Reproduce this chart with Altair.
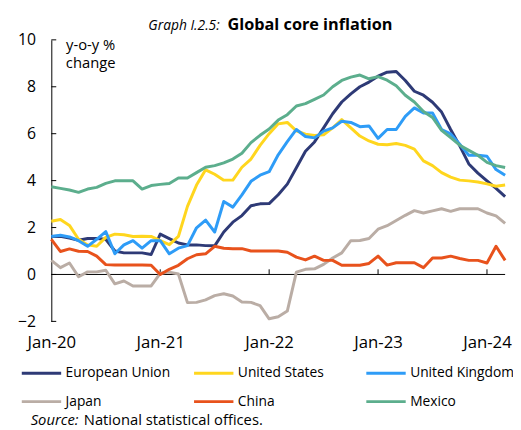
import altair as alt
import pandas as pd

series_names = ["European Union", "United States", "United Kingdom", "Japan", "China", "Mexico"]
series_colors = ["#2E3A76", "#FFD61E", "#2E9CF7", "#BAADA5", "#E8521C", "#5CAE8D"]
tick_labels = ["Jan-20", "Jan-21", "Jan-22", "Jan-23", "Jan-24"]
tick_positions = [0, 12, 24, 36, 48]
y_ticks = [-2, 0, 2, 4, 6, 8, 10]
months = [f"{y}-{m:02d}" for y in range(2020, 2025) for m in range(1, 13)][:51]

eu = [1.62, 1.63, 1.55, 1.46, 1.53, 1.53, 1.50, 1.00, 0.92, 0.92, 0.92, 0.85,
      1.72, 1.53, 1.34, 1.26, 1.26, 1.23, 1.22, 1.81, 2.23, 2.51, 2.93, 3.01,
      3.02, 3.40, 3.85, 4.55, 5.25, 5.65, 6.25, 6.85, 7.35, 7.70, 8.00, 8.20,
      8.45, 8.62, 8.65, 8.27, 7.81, 7.64, 7.34, 6.92, 6.18, 5.48, 4.71, 4.32,
      3.99, 3.67, 3.32]
us = [2.27, 2.34, 2.09, 1.50, 1.26, 1.20, 1.58, 1.72, 1.69, 1.62, 1.63, 1.62,
      1.44, 1.27, 1.62, 2.90, 3.81, 4.46, 4.27, 4.02, 4.02, 4.57, 4.92, 5.50,
      6.00, 6.42, 6.48, 6.12, 5.98, 5.92, 5.95, 6.25, 6.60, 6.25, 5.90, 5.69,
      5.55, 5.53, 5.58, 5.50, 5.34, 4.84, 4.64, 4.34, 4.15, 4.02, 3.99, 3.94,
      3.86, 3.76, 3.81]
uk = [1.62, 1.67, 1.60, 1.44, 1.20, 1.50, 1.83, 0.88, 1.26, 1.44, 1.12, 1.44,
      1.44, 0.88, 1.12, 1.23, 1.99, 2.32, 1.81, 3.11, 2.87, 3.39, 3.97, 4.23,
      4.38, 5.10, 5.66, 6.18, 5.88, 5.82, 6.11, 6.25, 6.53, 6.48, 6.30, 6.33,
      5.80, 6.18, 6.18, 6.74, 7.10, 6.88, 6.88, 6.18, 5.99, 5.55, 5.08, 5.08,
      5.04, 4.47, 4.23]
japan = [0.60, 0.29, 0.49, -0.10, 0.11, 0.11, 0.18, -0.40, -0.28, -0.49, -0.49, -0.49,
         0.05, 0.10, 0.02, -1.20, -1.19, -1.08, -0.90, -0.82, -0.92, -1.17, -1.19, -1.33,
         -1.89, -1.80, -1.56, 0.10, 0.22, 0.24, 0.43, 0.70, 0.92, 1.44, 1.45, 1.53,
         1.93, 2.08, 2.30, 2.52, 2.72, 2.62, 2.71, 2.80, 2.69, 2.80, 2.80, 2.80,
         2.62, 2.50, 2.18]
china = [1.50, 0.98, 1.09, 0.99, 0.98, 0.78, 0.42, 0.40, 0.40, 0.40, 0.40, 0.39,
         0.00, 0.22, 0.39, 0.67, 0.84, 0.88, 1.20, 1.12, 1.10, 1.10, 1.00, 1.00,
         1.00, 1.00, 0.95, 0.74, 0.62, 0.78, 0.60, 0.60, 0.39, 0.39, 0.39, 0.47,
         0.78, 0.40, 0.50, 0.50, 0.50, 0.29, 0.70, 0.70, 0.78, 0.68, 0.60, 0.60,
         0.49, 1.20, 0.60]
mexico = [3.74, 3.67, 3.60, 3.50, 3.64, 3.71, 3.88, 3.99, 3.99, 3.99, 3.64, 3.79,
          3.84, 3.88, 4.11, 4.11, 4.34, 4.57, 4.64, 4.76, 4.92, 5.17, 5.62, 5.93,
          6.20, 6.58, 6.81, 7.18, 7.28, 7.46, 7.65, 8.00, 8.27, 8.41, 8.50, 8.34,
          8.43, 8.28, 8.04, 7.64, 7.35, 6.95, 6.69, 6.14, 5.83, 5.51, 5.29, 5.08,
          4.78, 4.64, 4.56]

values = [eu, us, uk, japan, china, mexico]
rows = []
for name, vals in zip(series_names, values):
    for i, (mo, v) in enumerate(zip(months, vals)):
        rows.append({"idx": i, "month": mo, "series": name, "value": v})
df = pd.DataFrame(rows)

FONT = "Open Sans"
label_expr = "[" + ",".join(f"'{t}'" for t in tick_labels) + "][round(datum.value/12)]"

x_enc = alt.X("idx:Q",
              scale=alt.Scale(domain=[0, 50], nice=False, zero=False),
              axis=alt.Axis(values=tick_positions, labelExpr=label_expr, title=None,
                            domain=False, ticks=False, grid=False, labelPadding=14,
                            labelFlush=False, labelOverlap=False,
                            labelFontSize=17, labelFont=FONT, labelColor="black"))
y_scale = alt.Scale(domain=[-2, 10], nice=False, zero=False)
y_enc = alt.Y("value:Q", scale=y_scale,
              axis=alt.Axis(values=y_ticks, title=None, domain=True, domainColor="black",
                            domainWidth=1, ticks=False, tickSize=0, grid=False,
                            labelPadding=16, labelFontSize=16, labelFont=FONT,
                            labelFlush=False, labelColor="black"))

lines = alt.Chart(df).mark_line(strokeWidth=3, strokeJoin="round").encode(
    x=x_enc,
    y=y_enc,
    color=alt.Color("series:N",
                    scale=alt.Scale(domain=series_names, range=series_colors),
                    sort=series_names,
                    legend=alt.Legend(orient="none", legendX=-31.5, legendY=317,
                                      direction="horizontal",
                                      columns=3, title=None, symbolType="stroke",
                                      symbolSize=1600, symbolStrokeWidth=3,
                                      labelFontSize=14, labelFont=FONT, labelColor="black",
                                      labelOffset=3, columnPadding=17, rowPadding=-27,
                                      gridAlign="all", padding=0, labelLimit=300)),
    order=alt.Order("idx:Q"),
)

zero_rule = alt.Chart(pd.DataFrame({"value": [0]})).mark_rule(
    color="black", strokeWidth=1).encode(y=alt.Y("value:Q", scale=y_scale))

xt = pd.DataFrame({"idx": tick_positions[1:], "value": [0] * 4, "value2": [0.22] * 4})
x_ticks = alt.Chart(xt).mark_rule(color="black", strokeWidth=1).encode(
    x="idx:Q", y=alt.Y("value:Q", scale=y_scale), y2="value2:Q")

yt = pd.DataFrame({"value": y_ticks})
y_tick_marks = alt.Chart(yt).mark_rule(color="black", strokeWidth=1).encode(
    y=alt.Y("value:Q", scale=y_scale), x=alt.value(0), x2=alt.value(5))

def text_layer(txt, x, y, align="left", size=15, style="normal", weight="normal",
               baseline="alphabetic"):
    kw = dict(align=align, baseline=baseline, fontSize=size, font=FONT,
              fontStyle=style, fontWeight=weight, color="black")
    return alt.Chart(pd.DataFrame({"t": [txt]})).mark_text(**kw).encode(
        text="t:N", x=alt.value(x), y=alt.value(y))

title_a = text_layer("Graph I.2.5:", 171, -10, align="right", size=14, style="italic")
title_b = text_layer("Global core inflation", 179, -10, align="left", size=16.5, weight="bold")
ytitle = alt.Chart(pd.DataFrame({"t": [["y-o-y %", "change"]]})).mark_text(
    align="center", baseline="alphabetic", fontSize=15, font=FONT, color="black",
    lineHeight=19).encode(text="t", x=alt.value(40), y=alt.value(10))
src_a = text_layer("Source:", -21, 391, size=15, style="italic")
src_b = text_layer("National statistical offices.", 33, 391, size=15)

chart = alt.layer(
    zero_rule, x_ticks, y_tick_marks, lines, title_a, title_b, ytitle, src_a, src_b
).properties(
    width=461, height=286,
    autosize=alt.AutoSizeParams(type="none"),
    padding={"left": 44, "top": 29, "right": 8, "bottom": 108},
).configure_view(stroke=None)

chart.save("out.html", embed_options={"renderer": "svg", "actions": False})
